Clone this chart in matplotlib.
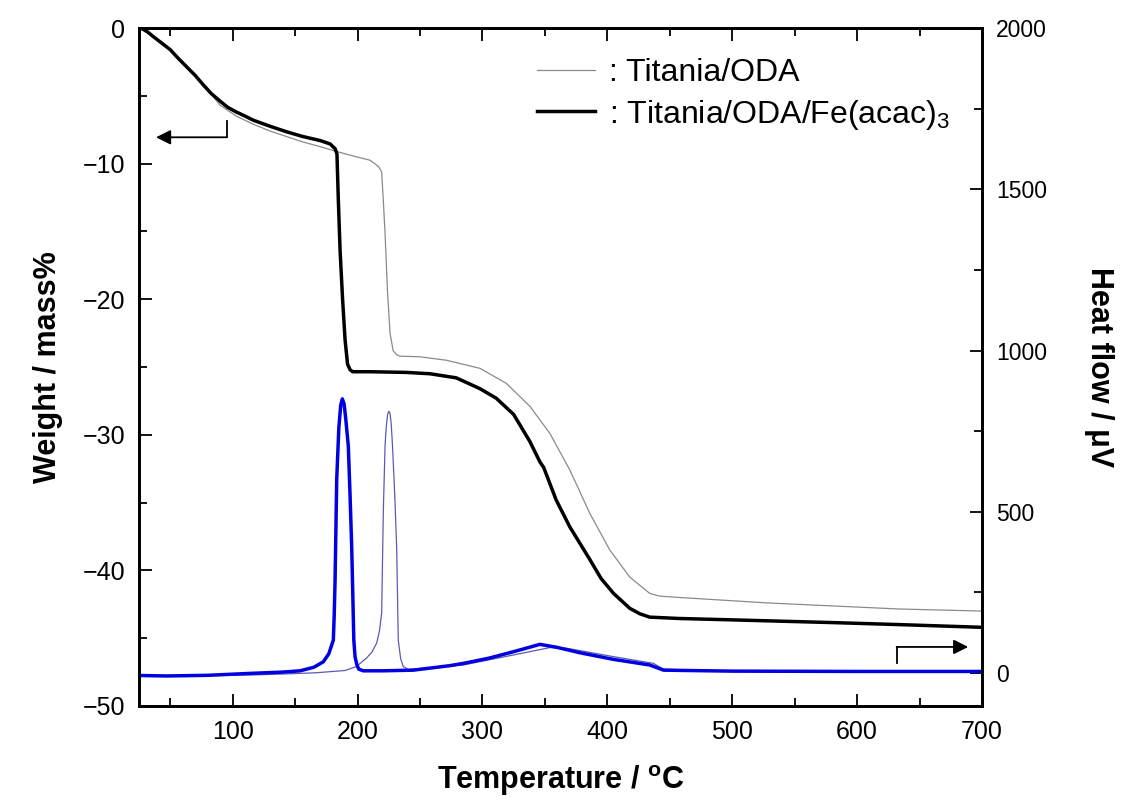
import matplotlib.pyplot as plt
from matplotlib.ticker import MultipleLocator

# ==============================================
# CONFIG
# ==============================================
plt.rcParams['font.family'] = ['Liberation Sans', 'DejaVu Sans']
plt.rcParams['mathtext.fontset'] = 'custom'
plt.rcParams['mathtext.rm'] = 'Liberation Sans'
plt.rcParams['mathtext.bf'] = 'Liberation Sans:bold'
plt.rcParams['mathtext.default'] = 'regular'

# ==============================================
# DATA
# ==============================================
# Weight loss, Titania/ODA/Fe(acac)3  (thick black)
t_fe_w = [25, 28, 32, 36.5, 43, 50, 56, 63, 70, 76.5, 83, 90, 96, 103, 110, 116.5, 130, 143, 156,
          170, 178, 182, 183.5, 184.6, 186, 188, 190, 192, 194, 196, 210, 239, 258, 279, 298, 311,
          325, 338, 346, 349, 359, 370, 386, 395, 405, 418, 426, 434, 458, 500, 580, 634, 700]
w_fe = [0, -0.08, -0.3, -0.64, -1.1, -1.6, -2.2, -2.85, -3.5, -4.2, -4.85, -5.4, -5.85, -6.2,
        -6.5, -6.8, -7.25, -7.65, -8.0, -8.3, -8.55, -8.9, -9.3, -12.7, -16.4, -20.0, -23.0,
        -24.8, -25.2, -25.35, -25.35, -25.4, -25.5, -25.8, -26.6, -27.3, -28.5, -30.5, -32.0,
        -32.4, -34.8, -36.8, -39.2, -40.6, -41.7, -42.8, -43.2, -43.45, -43.55, -43.65, -43.85,
        -44.0, -44.2]

# Weight loss, Titania/ODA  (thin gray)
t_ti_w = [25, 28, 32, 36.5, 43, 50, 56, 63, 70, 76.5, 83, 90, 103, 116.5, 130, 143, 156, 170, 183,
          197, 210, 216.6, 219.3, 220.6, 222, 224, 226, 228.5, 231.3, 234, 250, 271, 298, 319,
          338, 354, 370, 386, 402, 418, 434, 442, 458, 528, 634, 700]
w_ti = [0, -0.08, -0.3, -0.64, -1.1, -1.6, -2.2, -2.85, -3.5, -4.2, -4.9, -5.7, -6.5, -7.1, -7.6,
        -8.0, -8.4, -8.75, -9.1, -9.45, -9.75, -10.2, -10.6, -12.7, -15.1, -19.5, -22.5, -23.8,
        -24.1, -24.2, -24.25, -24.5, -25.1, -26.2, -27.9, -29.9, -32.6, -35.8, -38.5, -40.5,
        -41.7, -41.9, -42.0, -42.4, -42.85, -43.0]

# Heat flow, Titania/ODA/Fe(acac)3  (thick blue)
t_fe_h = [25, 47, 80, 114, 140, 154, 165, 172.6, 177, 180.6, 181.3, 182, 183.3, 185, 186.5, 187.8,
          189.2, 190.5, 192.6, 194, 195.3, 196.2, 197, 198, 199.5, 201, 204.6, 220, 244.6, 274,
          284.7, 305, 324.7, 346, 359.4, 378, 404.8, 434, 445, 500, 600, 700]
h_fe = [-7.5, -9, -7, -1, 3, 7, 18, 35, 60, 102, 180, 289, 600, 760, 830, 850, 835, 790, 703,
        550, 392, 240, 102, 50, 25, 12, 7, 7, 9, 23, 30, 46, 66, 89, 80, 63, 42.5, 25, 9, 6, 5, 5]

# Heat flow, Titania/ODA  (thin blue)
t_ti_h = [25, 47, 80, 114, 140, 167, 190, 199, 207.3, 211.5, 215.3, 217.5, 219.3, 220.6, 222,
          223, 224, 225, 226, 227, 228, 229.8, 231.3, 232.6, 234.5, 236.6, 240.6, 260, 284.7,
          324.7, 354, 367.5, 404.8, 437, 445, 500, 600, 700]
h_ti = [-7.5, -9, -8, -6, -3, 1, 8, 20, 47, 65, 93, 130, 186, 497, 703, 765, 800, 812, 805, 770,
        703, 550, 392, 102, 45, 20, 11, 17, 25, 56, 79, 77, 51, 30, 12, 6, 5, 5]

labels = [': Titania/ODA', ': Titania/ODA/Fe(acac)$_3$']

# ==============================================
# PLOT
# ==============================================
fig = plt.figure(figsize=(11.23, 8.07), dpi=100)
ax = fig.add_axes([0.1238, 0.1252, 0.7506, 0.8401])
ax2 = ax.twinx()

l1, = ax.plot(t_ti_w, w_ti, color='#8a8a8a', lw=0.9)
l2, = ax.plot(t_fe_w, w_fe, color='black', lw=2.5)
ax2.plot(t_ti_h, h_ti, color='#5a5ab4', lw=0.9)
ax2.plot(t_fe_h, h_fe, color='#0000e0', lw=2.5)

ax.set_xlim(25, 700)
ax.set_ylim(-50, 0)
ax2.set_ylim(-102, 2000)

ax.xaxis.set_major_locator(MultipleLocator(100))
ax.xaxis.set_minor_locator(MultipleLocator(50))
ax.yaxis.set_major_locator(MultipleLocator(10))
ax.yaxis.set_minor_locator(MultipleLocator(5))
ax2.yaxis.set_major_locator(MultipleLocator(500))
ax2.yaxis.set_minor_locator(MultipleLocator(250))

ax.tick_params(which='both', direction='in', top=True, width=1.3, labelsize=18, pad=10)
ax.tick_params(which='major', length=9)
ax.tick_params(which='minor', length=6)
ax2.tick_params(which='both', direction='in', width=1.3, labelsize=16.5, pad=10)
ax2.tick_params(which='major', length=9)
ax2.tick_params(which='minor', length=6)
for a in (ax, ax2):
    for s in a.spines.values():
        s.set_linewidth(2)

ax.set_xlabel('Temperature / $^{\\mathbf{o}}$C', fontsize=22, fontweight='bold', labelpad=14)
ax.set_ylabel('Weight / mass%', fontsize=22, fontweight='bold', labelpad=14)
ax2.set_ylabel('Heat flow / μV', fontsize=22, fontweight='bold', rotation=270, labelpad=48)

# arrows pointing to the axis each curve set belongs to
ax.plot([95.2, 95.2], [-6.84, -8.06], color='black', lw=1.3)
ax.annotate('', xy=(38.6, -8.06), xytext=(95.2, -8.06),
            arrowprops=dict(arrowstyle='-|>', color='black', lw=1.3, mutation_scale=22,
                            shrinkA=0, shrinkB=0))
ax2.plot([631.7, 631.7], [31, 81], color='black', lw=1.3)
ax2.annotate('', xy=(689, 81), xytext=(631.7, 81),
             arrowprops=dict(arrowstyle='-|>', color='black', lw=1.3, mutation_scale=22,
                             shrinkA=0, shrinkB=0))

ax2.legend([l1, l2], labels, loc='upper left', bbox_to_anchor=(537 / 1123, 1 - 58 / 807),
           bbox_transform=fig.transFigure, frameon=False, fontsize=23, borderpad=0,
           borderaxespad=0, handlelength=1.8, handletextpad=0.45, labelspacing=0.3)

plt.savefig('out.png', dpi=100)
plt.close()
